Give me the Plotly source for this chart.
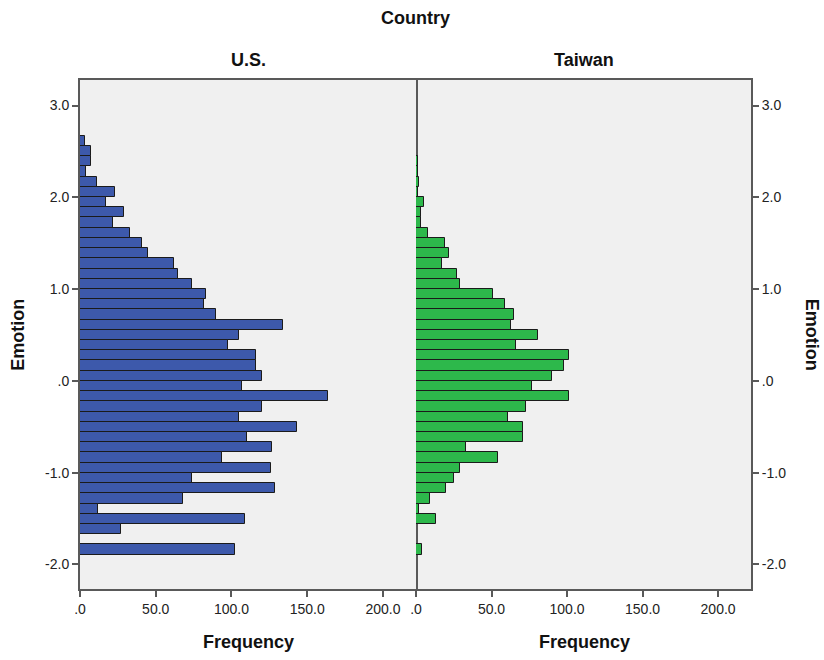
import plotly.graph_objects as go

# Emotion bins (shared by both countries), listed from the top bin downwards
bin_top = 2.671
bin_width = 0.1113

us_counts = [3, 7, 7, 4, 11, 23, 17, 29, 22, 33, 41, 45, 62, 65, 74, 83,
             82, 90, 134, 105, 98, 116, 116, 120, 107, 164, 120, 105, 143, 110,
             127, 94, 126, 74, 129, 68, 12, 109, 27, 0, 102]
taiwan_counts = [0, 0, 1, 1, 2, 1, 5, 3, 3, 8, 19, 22, 17, 27, 29, 51,
                 59, 65, 63, 81, 66, 101, 98, 90, 77, 101, 73, 61, 71, 71,
                 33, 54, 29, 25, 20, 9, 2, 13, 0, 0, 4]

y_tick_vals = [-2.0, -1.0, 0.0, 1.0, 2.0, 3.0]
y_tick_labels = ["-2.0", "-1.0", ".0", "1.0", "2.0", "3.0"]
x_tick_vals = [0, 50, 100, 150, 200]
x_tick_labels = [".0", "50.0", "100.0", "150.0", "200.0"]

panel_names = ["U.S.", "Taiwan"]
bin_centers = [bin_top - bin_width * (i + 0.5) for i in range(len(us_counts))]

W, H = 824, 660
ML, MR, MT, MB = 80, 73, 80, 70.5
PW, PH = W - ML - MR, H - MT - MB
split = 336 / PW

FONT = "Liberation Sans, Arial, sans-serif"
AX = "#595959"

fig = go.Figure()
fig.add_trace(go.Bar(
    y=bin_centers, x=us_counts, orientation="h", width=bin_width,
    marker=dict(color="#3d59ab", line=dict(color="#1b1b1b", width=1)),
    xaxis="x", yaxis="y", showlegend=False, hoverinfo="x+y"))
fig.add_trace(go.Bar(
    y=bin_centers, x=taiwan_counts, orientation="h", width=bin_width,
    marker=dict(color="#2db84b", line=dict(color="#1b1b1b", width=1)),
    xaxis="x2", yaxis="y2", showlegend=False, hoverinfo="x+y"))

xcommon = dict(range=[0, 221.8], tickvals=x_tick_vals, ticktext=x_tick_labels,
               ticks="outside", ticklen=6, tickcolor=AX, tickwidth=1.5,
               showline=True, linecolor=AX, linewidth=2, mirror=True,
               showgrid=False, zeroline=False,
               tickfont=dict(family=FONT, size=14, color="#222"))
ycommon = dict(range=[-2.267, 3.278], tickvals=y_tick_vals, ticktext=y_tick_labels,
               ticks="outside", ticklen=6, tickcolor=AX, tickwidth=1.5,
               showline=True, linecolor=AX, linewidth=2,
               showgrid=False, zeroline=False,
               tickfont=dict(family=FONT, size=14, color="#222"))

fig.update_layout(
    width=W, height=H,
    margin=dict(l=ML, r=MR, t=MT, b=MB),
    paper_bgcolor="white", plot_bgcolor="#f0f0f0",
    bargap=0,
    xaxis=dict(domain=[0, split], anchor="y", **xcommon),
    xaxis2=dict(domain=[split, 1], anchor="y2", **xcommon),
    # the left panel's mirrored line doubles as the divider between panels
    yaxis=dict(anchor="x", side="left", mirror=True, **ycommon),
    yaxis2=dict(anchor="x2", side="right", matches="y", mirror=False, **ycommon),
)


def px_x(p):
    return (p - ML) / PW


def px_y(p):
    return (H - MB - p) / PH


bold = dict(family=FONT, size=18, color="#111")
ann = [
    dict(text="<b>Country</b>", x=px_x(415.5), y=px_y(18)),
    dict(text="<b>%s</b>" % panel_names[0], x=px_x(248), y=px_y(60)),
    dict(text="<b>%s</b>" % panel_names[1], x=px_x(584), y=px_y(60)),
    dict(text="<b>Frequency</b>", x=px_x(248), y=px_y(643)),
    dict(text="<b>Frequency</b>", x=px_x(584), y=px_y(643)),
    dict(text="<b>Emotion</b>", x=px_x(18), y=px_y(335), textangle=-90),
    dict(text="<b>Emotion</b>", x=px_x(812), y=px_y(335), textangle=90),
]
for a in ann:
    fig.add_annotation(xref="paper", yref="paper", showarrow=False,
                       xanchor="center", yanchor="middle", font=bold, **a)

fig.write_html("out.html")
